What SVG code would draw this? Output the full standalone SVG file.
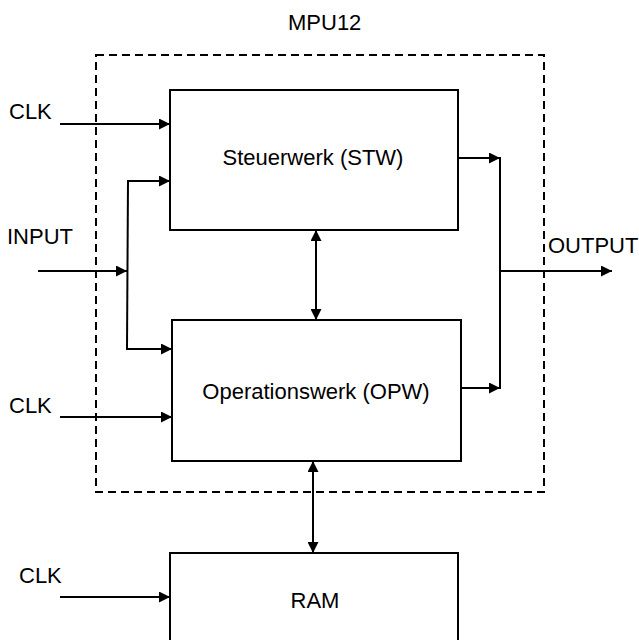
<svg xmlns="http://www.w3.org/2000/svg" width="639" height="640" viewBox="0 0 639 640">
  <style>
    .box { fill: #ffffff; stroke: #000000; stroke-width: 2; }
    .frame { fill: none; stroke: #000000; stroke-width: 2; stroke-dasharray: 8 5; }
    .wire { fill: none; stroke: #000000; stroke-width: 2; }
    .lbl { font-family: "Liberation Sans", Arial, sans-serif; font-size: 22px; fill: #000000; }
    .mid { text-anchor: middle; }
  </style>
  <defs>
    <marker id="arrow" viewBox="0 0 10 10" refX="10" refY="5" markerWidth="11" markerHeight="11" markerUnits="userSpaceOnUse" orient="auto-start-reverse">
      <path d="M0,0 L10,5 L0,10 Z" fill="#000000"/>
    </marker>
  </defs>

  <!-- MPU12 boundary -->
  <g id="mpu12">
    <rect class="frame" x="96" y="55" width="448" height="437"/>
    <text class="lbl" x="288" y="30">MPU12</text>
  </g>

  <g id="stw">
    <rect class="box" x="170" y="90" width="288" height="140"/>
    <text class="lbl mid" x="313" y="165">Steuerwerk (STW)</text>
  </g>

  <g id="opw">
    <rect class="box" x="172" y="320" width="289" height="141"/>
    <text class="lbl mid" x="316" y="399">Operationswerk (OPW)</text>
  </g>

  <g id="ram">
    <rect class="box" x="170" y="553" width="288" height="100"/>
    <text class="lbl mid" x="315" y="608">RAM</text>
  </g>

  <g id="labels">
    <text class="lbl" x="9" y="119">CLK</text>
    <text class="lbl" x="7" y="244">INPUT</text>
    <text class="lbl" x="9" y="413">CLK</text>
    <text class="lbl" x="19" y="583">CLK</text>
    <text class="lbl" x="548" y="253">OUTPUT</text>
  </g>

  <g id="connectors">
    <!-- clocks -->
    <path class="wire" d="M60,124 H170" marker-end="url(#arrow)"/>
    <path class="wire" d="M60,417 H172" marker-end="url(#arrow)"/>
    <path class="wire" d="M60,597 H170" marker-end="url(#arrow)"/>
    <!-- input fan-out -->
    <path class="wire" d="M38,271 H127" marker-end="url(#arrow)"/>
    <path class="wire" d="M128,181 L127,349"/>
    <path class="wire" d="M127,181 H170" marker-end="url(#arrow)"/>
    <path class="wire" d="M126,349 H172" marker-end="url(#arrow)"/>
    <!-- outputs -->
    <path class="wire" d="M458,158 H500" marker-end="url(#arrow)"/>
    <path class="wire" d="M461,388 H500" marker-end="url(#arrow)"/>
    <path class="wire" d="M500,157 V389"/>
    <path class="wire" d="M500,271 H612" marker-end="url(#arrow)"/>
    <!-- buses -->
    <path class="wire" d="M316,230 V320" marker-start="url(#arrow)" marker-end="url(#arrow)"/>
    <path class="wire" d="M313,461 V553" marker-start="url(#arrow)" marker-end="url(#arrow)"/>
  </g>
</svg>
